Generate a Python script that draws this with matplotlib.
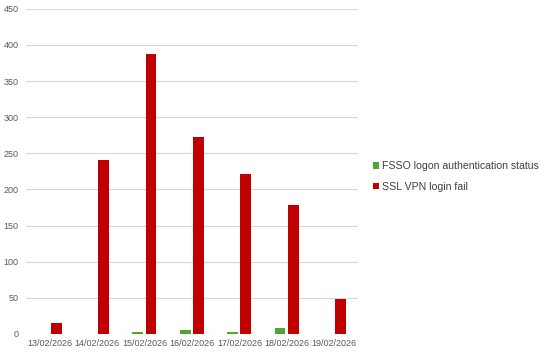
import matplotlib
matplotlib.use("Agg")
import matplotlib.pyplot as plt
import numpy as np

dates = ["13/02/2026", "14/02/2026", "15/02/2026", "16/02/2026", "17/02/2026", "18/02/2026", "19/02/2026"]
fsso = [0, 0, 3, 5, 3, 8, 0]
sslvpn = [15, 241, 388, 273, 221, 178, 48]
series_names = ["FSSO logon authentication status", "SSL VPN login fail"]

plt.rcParams['font.family'] = ['Liberation Sans', 'DejaVu Sans']
fig = plt.figure(figsize=(5.44, 3.53), dpi=100)
ax = fig.add_axes([0.048, 0.054, 0.610, 0.921])

x = np.arange(len(dates))
w = 0.23
ax.bar(x - 0.145, fsso, width=w, color="#4EA72E", label=series_names[0], zorder=3)
ax.bar(x + 0.135, sslvpn, width=w, color="#C00000", label=series_names[1], zorder=3)

ax.set_xlim(-0.5, len(dates) - 0.5)
ax.set_ylim(0, 450)
ax.set_yticks(np.arange(0, 451, 50))
ax.set_xticks(x)
ax.set_xticklabels(dates)
ax.tick_params(axis='both', length=0, labelsize=6.5, colors="#595959")
ax.tick_params(axis='y', pad=5.5)
ax.tick_params(axis='x', pad=4)
ax.grid(axis='y', color="#D9D9D9", linewidth=0.8, zorder=0)
for s in ax.spines.values():
    s.set_visible(False)

leg = fig.legend(loc='center left', bbox_to_anchor=(0.685, 0.50), frameon=False,
                 fontsize=7.6, handlelength=0.6, handleheight=0.6, handletextpad=0.3,
                 labelspacing=1.0, labelcolor="#404040", borderaxespad=0, borderpad=0)

fig.savefig("out.png", dpi=100)
